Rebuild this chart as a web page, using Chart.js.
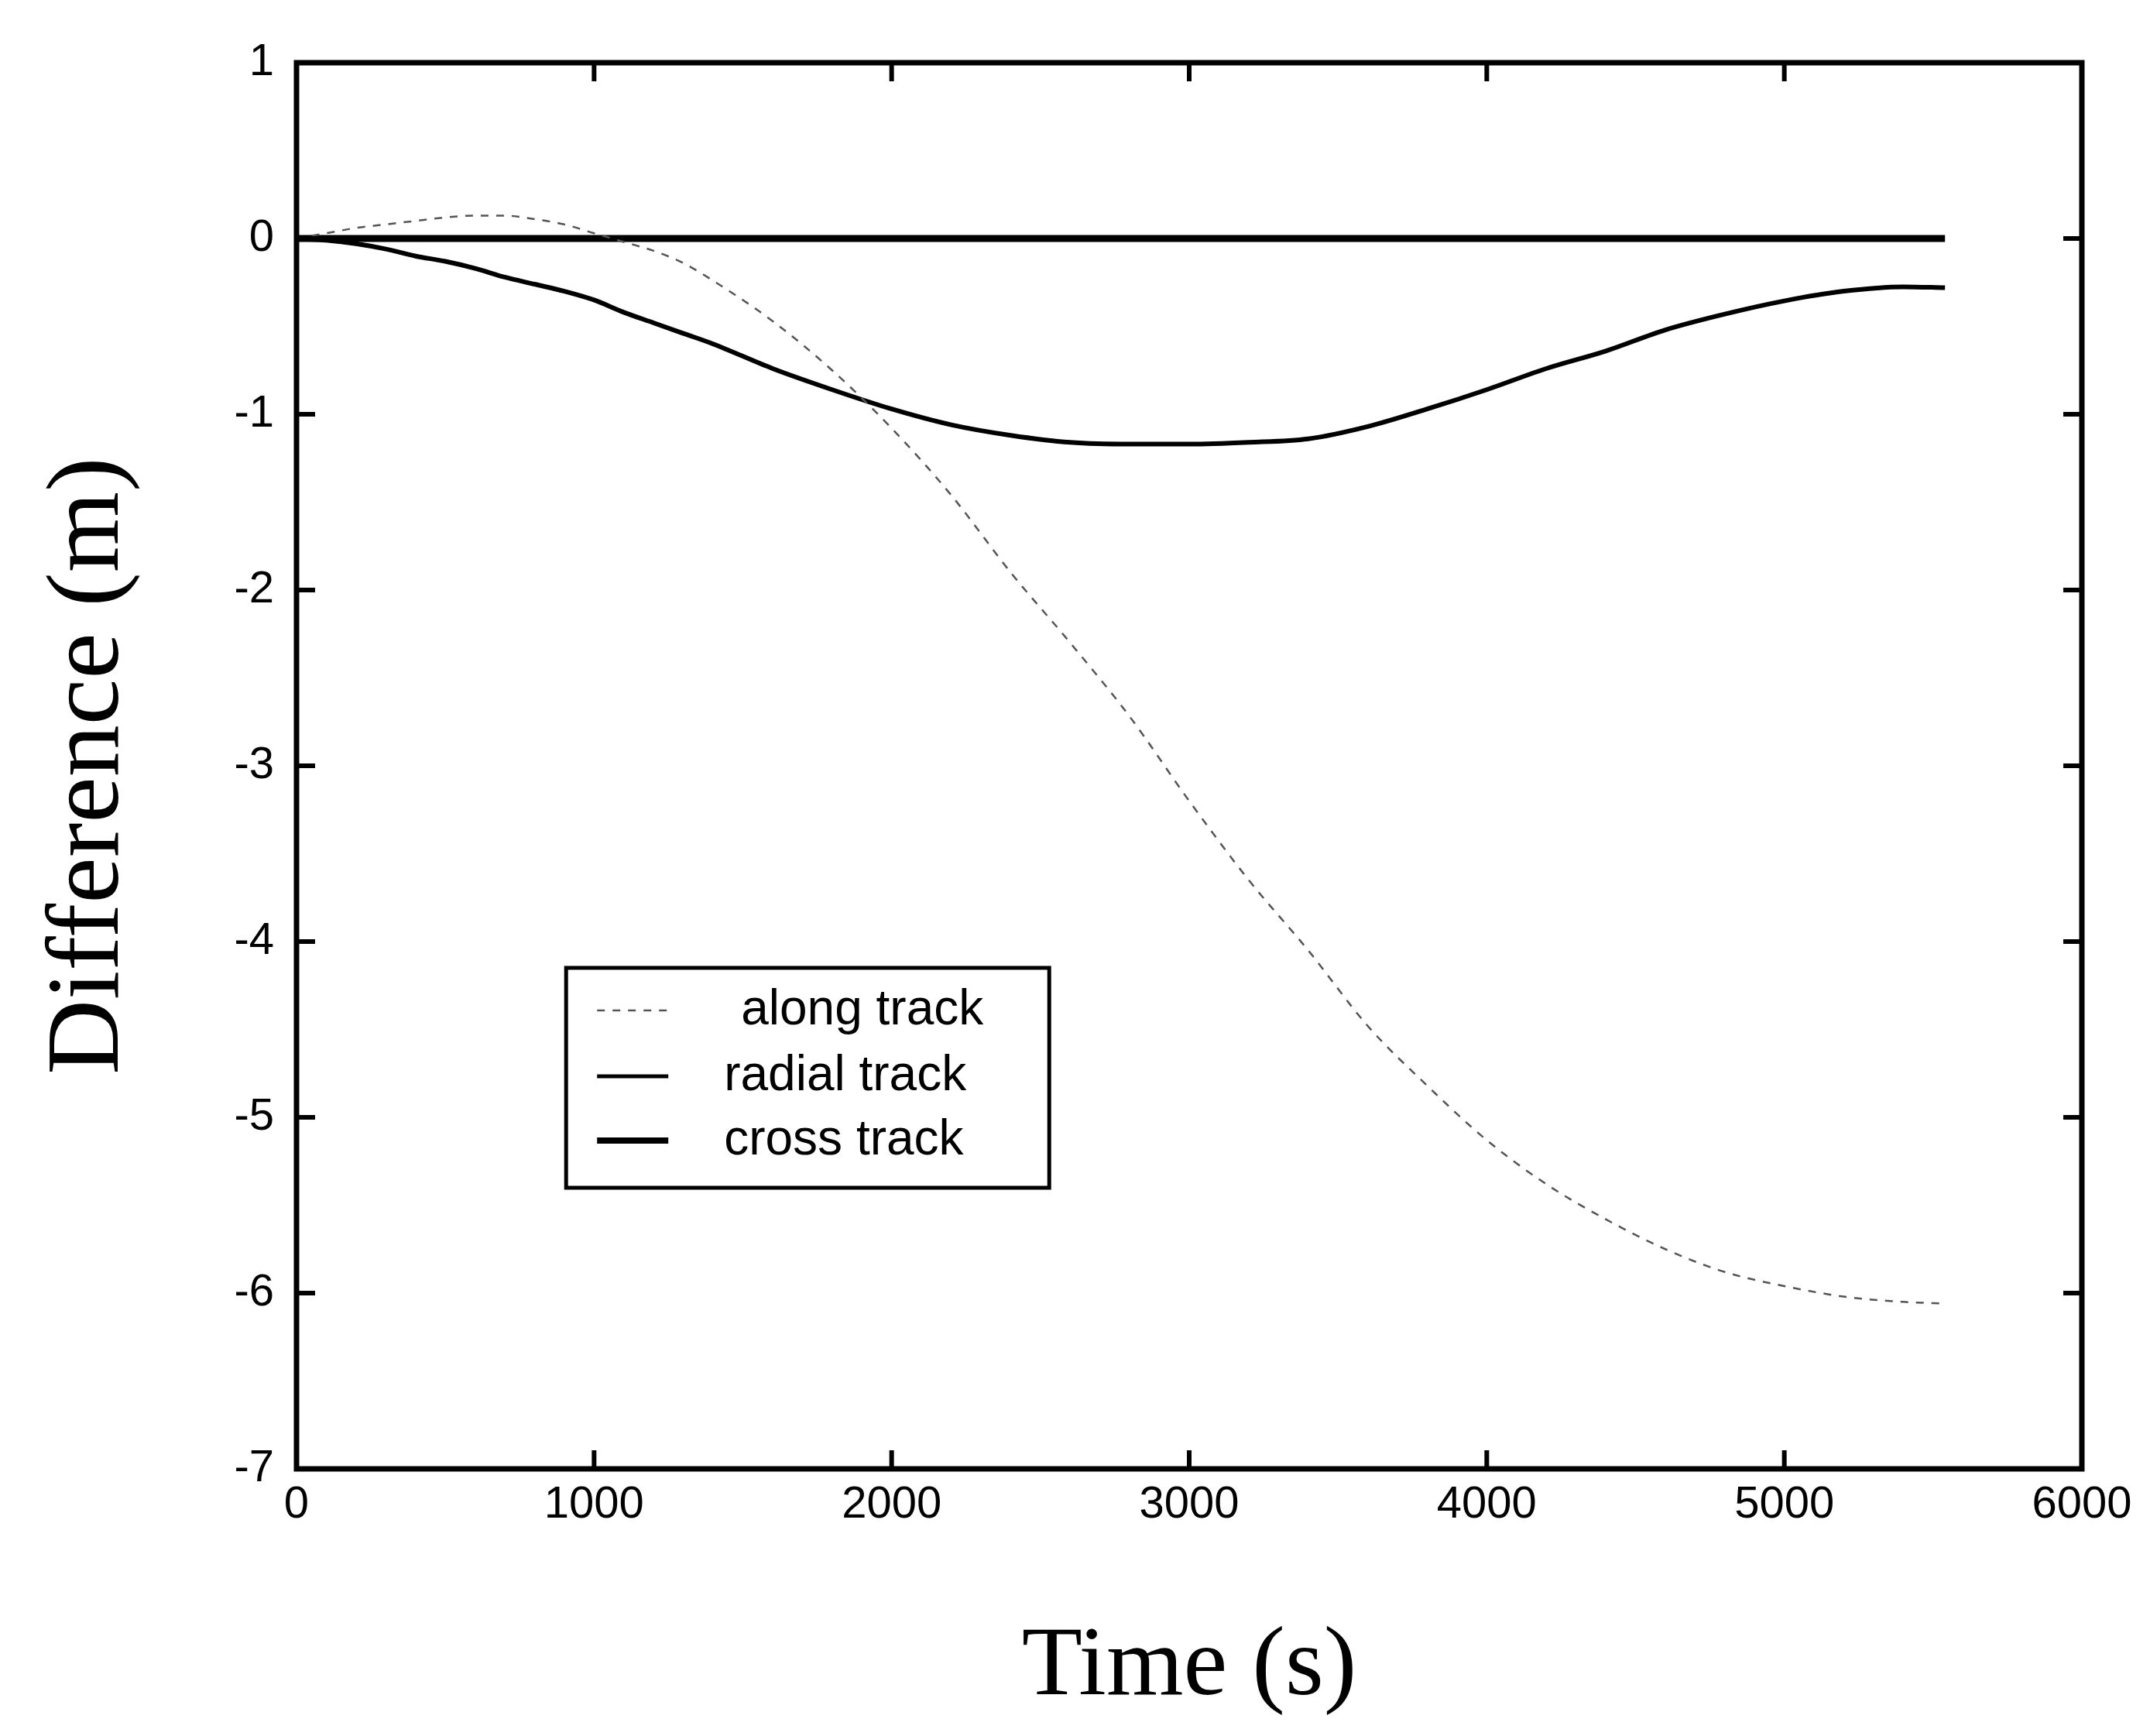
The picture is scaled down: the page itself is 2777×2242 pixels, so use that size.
<!DOCTYPE html>
<html>
<head>
<meta charset="utf-8">
<script src="https://cdn.jsdelivr.net/npm/chart.js@4.4.1/dist/chart.umd.min.js"></script>
<style>
html, body { margin: 0; padding: 0; background: #ffffff; }
#wrap { width: 2777px; height: 2242px; position: relative; }
</style>
</head>
<body>
<div id="wrap"><canvas id="c"></canvas></div>
<script>
// ---- data ----
const timeSeconds = [0, 100, 200, 300, 400, 500, 600, 700, 800, 900, 1000, 1100, 1200, 1300, 1400,
  1600, 1800, 2000, 2200, 2400, 2600, 2800, 3000, 3200, 3400, 3600, 3800, 4000, 4200, 4400,
  4600, 4800, 5000, 5200, 5400, 5540];
const alongTrack = [0, 0.03, 0.06, 0.08, 0.10, 0.12, 0.13, 0.13, 0.11, 0.08, 0.03, -0.02, -0.07, -0.14, -0.24,
  -0.47, -0.75, -1.08, -1.46, -1.90, -2.30, -2.72, -3.20, -3.65, -4.05, -4.48, -4.82, -5.13, -5.38, -5.58,
  -5.75, -5.88, -5.96, -6.02, -6.05, -6.06];
const radialTrack = [0, -0.01, -0.03, -0.06, -0.10, -0.13, -0.17, -0.22, -0.26, -0.30, -0.35, -0.42, -0.48, -0.54, -0.60,
  -0.74, -0.86, -0.97, -1.06, -1.12, -1.16, -1.17, -1.17, -1.16, -1.14, -1.07, -0.97, -0.86, -0.74, -0.64,
  -0.52, -0.43, -0.355, -0.30, -0.275, -0.28];
const crossTrack = [0, 0, 0, 0, 0, 0, 0, 0, 0, 0, 0, 0, 0, 0, 0,
  0, 0, 0, 0, 0, 0, 0, 0, 0, 0, 0, 0, 0, 0, 0,
  0, 0, 0, 0, 0, 0];
const seriesLabels = ['along track', 'radial track', 'cross track'];
const xTickValues = [0, 1000, 2000, 3000, 4000, 5000, 6000];
const yTickValues = [1, 0, -1, -2, -3, -4, -5, -6, -7];
const xAxisTitle = 'Time (s)';
const yAxisTitle = 'Difference (m)';

function toPoints(xs, ys) { return xs.map((t, i) => ({ x: t, y: ys[i] })); }

// ---- frame with inward ticks on all four sides ----
const framePlugin = {
  id: 'frame',
  afterDatasetsDraw(chart) {
    const { ctx, chartArea, scales } = chart;
    const { left, right, top, bottom } = chartArea;
    const L = 24;
    ctx.save();
    ctx.strokeStyle = '#000';
    ctx.lineCap = 'butt';
    ctx.lineWidth = 6;
    const seg = (x1, y1, x2, y2) => { ctx.beginPath(); ctx.moveTo(x1, y1); ctx.lineTo(x2, y2); ctx.stroke(); };
    scales.x.ticks.forEach(t => {
      const p = scales.x.getPixelForValue(t.value);
      seg(p, bottom, p, bottom - L);
      seg(p, top, p, top + L);
    });
    scales.y.ticks.forEach(t => {
      const p = scales.y.getPixelForValue(t.value);
      seg(left, p, left + L, p);
      seg(right, p, right - L, p);
    });
    ctx.lineWidth = 7;
    ctx.strokeRect(left, top, right - left, bottom - top);
    ctx.restore();
  }
};

// ---- boxed legend inside the plot ----
const legendPlugin = {
  id: 'boxLegend',
  afterDraw(chart) {
    const { ctx, chartArea } = chart;
    const w = chartArea.right - chartArea.left;
    const h = chartArea.bottom - chartArea.top;
    const bx = chartArea.left + w * 0.151;
    const by = chartArea.top + h * 0.6437;
    const bw = w * 0.2706;
    const bh = h * 0.1564;
    ctx.save();
    ctx.fillStyle = '#fff';
    ctx.fillRect(bx, by, bw, bh);
    ctx.lineWidth = 5;
    ctx.strokeStyle = '#000';
    ctx.strokeRect(bx, by, bw, bh);
    const rows = [1305, 1390, 1473].map(v => by + (v - 1250));
    chart.data.datasets.forEach((ds, i) => {
      const yy = rows[i];
      ctx.save();
      ctx.strokeStyle = ds.borderColor;
      ctx.lineWidth = ds.legendLineWidth;
      ctx.setLineDash(ds.borderDash || []);
      ctx.beginPath();
      ctx.moveTo(bx + 40, yy);
      ctx.lineTo(bx + 132, yy);
      ctx.stroke();
      ctx.restore();
      ctx.fillStyle = '#000';
      ctx.font = '64px "Liberation Sans", Arial, sans-serif';
      ctx.textBaseline = 'middle';
      ctx.textAlign = 'left';
      ctx.fillText(ds.label, bx + (i === 0 ? 226 : 204), yy);
    });
    ctx.restore();
  }
};

const tickFont = { family: '"Liberation Sans", Arial, sans-serif', size: 58 };
const xTitleFont = { family: '"Liberation Serif", "Times New Roman", serif', size: 128 };
const yTitleFont = { family: '"Liberation Serif", "Times New Roman", serif', size: 134 };

new Chart(document.getElementById('c'), {
  type: 'line',
  data: {
    datasets: [
      { label: seriesLabels[0], data: toPoints(timeSeconds, alongTrack), borderColor: '#555555',
        borderWidth: 2.5, borderDash: [10, 10], legendLineWidth: 2.5, pointRadius: 0, cubicInterpolationMode: 'monotone' },
      { label: seriesLabels[1], data: toPoints(timeSeconds, radialTrack), borderColor: '#000000',
        borderWidth: 6, legendLineWidth: 5, pointRadius: 0, cubicInterpolationMode: 'monotone' },
      { label: seriesLabels[2], data: toPoints(timeSeconds, crossTrack), borderColor: '#000000',
        borderWidth: 9, legendLineWidth: 8, pointRadius: 0, cubicInterpolationMode: 'monotone' }
    ]
  },
  options: {
    responsive: true,
    maintainAspectRatio: false,
    devicePixelRatio: 1,
    animation: false,
    layout: { padding: { top: 81, right: 88, left: 0, bottom: 0 } },
    plugins: { legend: { display: false }, tooltip: { enabled: false } },
    scales: {
      x: {
        type: 'linear',
        min: 0, max: 6000,
        afterBuildTicks: s => { s.ticks = xTickValues.map(v => ({ value: v })); },
        afterFit: s => { s.height = 345; },
        grid: { display: false, drawTicks: false },
        border: { display: false },
        ticks: { color: '#000', font: tickFont, padding: 12, maxRotation: 0, autoSkip: false,
          callback: v => String(v) },
        title: { display: true, text: xAxisTitle, color: '#000', font: xTitleFont, padding: { top: 0, bottom: 11 } }
      },
      y: {
        type: 'linear',
        min: -7, max: 1,
        afterBuildTicks: s => { s.ticks = yTickValues.map(v => ({ value: v })); },
        afterFit: s => { s.width = 383; },
        grid: { display: false, drawTicks: false },
        border: { display: false },
        ticks: { color: '#000', font: tickFont, padding: 29, autoSkip: false,
          callback: v => String(v) },
        title: { display: true, text: yAxisTitle, color: '#000', font: yTitleFont, padding: { top: 36, bottom: 0 } }
      }
    }
  },
  plugins: [framePlugin, legendPlugin]
});
</script>
</body>
</html>
